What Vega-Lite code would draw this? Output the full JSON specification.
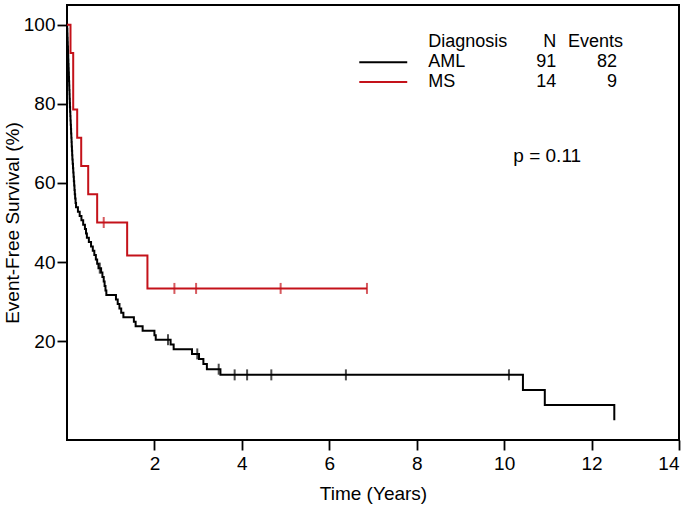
{
  "$schema": "https://vega.github.io/schema/vega-lite/v6.json",
  "width": 612,
  "height": 435,
  "autosize": {"type": "none"},
  "padding": {"left": 67, "top": 5, "right": 12, "bottom": 70},
  "background": "white",
  "config": {
    "view": {"stroke": "black", "strokeWidth": 2},
    "font": "Liberation Sans",
    "axis": {
      "domain": false, "grid": false, "tickColor": "black", "tickWidth": 1.8, "tickSize": 10,
      "labelColor": "black", "labelFontSize": 19, "labelFont": "Liberation Sans",
      "titleColor": "black", "titleFontSize": 19, "titleFont": "Liberation Sans", "titleFontWeight": "normal"
    }
  },
  "datasets": {
    "curves": [
      {"group": "AML", "time": 0, "surv": 100},
      {"group": "AML", "time": 0.004, "surv": 98.90},
      {"group": "AML", "time": 0.008, "surv": 97.80},
      {"group": "AML", "time": 0.011, "surv": 96.70},
      {"group": "AML", "time": 0.015, "surv": 95.60},
      {"group": "AML", "time": 0.018, "surv": 94.51},
      {"group": "AML", "time": 0.022, "surv": 93.41},
      {"group": "AML", "time": 0.025, "surv": 92.31},
      {"group": "AML", "time": 0.029, "surv": 91.21},
      {"group": "AML", "time": 0.032, "surv": 90.11},
      {"group": "AML", "time": 0.036, "surv": 89.01},
      {"group": "AML", "time": 0.039, "surv": 87.91},
      {"group": "AML", "time": 0.043, "surv": 86.81},
      {"group": "AML", "time": 0.046, "surv": 85.71},
      {"group": "AML", "time": 0.050, "surv": 84.62},
      {"group": "AML", "time": 0.053, "surv": 83.52},
      {"group": "AML", "time": 0.057, "surv": 82.42},
      {"group": "AML", "time": 0.060, "surv": 81.32},
      {"group": "AML", "time": 0.064, "surv": 80.22},
      {"group": "AML", "time": 0.067, "surv": 79.12},
      {"group": "AML", "time": 0.071, "surv": 78.02},
      {"group": "AML", "time": 0.076, "surv": 76.92},
      {"group": "AML", "time": 0.080, "surv": 75.82},
      {"group": "AML", "time": 0.085, "surv": 74.73},
      {"group": "AML", "time": 0.090, "surv": 73.63},
      {"group": "AML", "time": 0.094, "surv": 72.53},
      {"group": "AML", "time": 0.099, "surv": 71.43},
      {"group": "AML", "time": 0.104, "surv": 70.33},
      {"group": "AML", "time": 0.108, "surv": 69.23},
      {"group": "AML", "time": 0.113, "surv": 68.13},
      {"group": "AML", "time": 0.118, "surv": 67.03},
      {"group": "AML", "time": 0.123, "surv": 65.93},
      {"group": "AML", "time": 0.130, "surv": 64.84},
      {"group": "AML", "time": 0.137, "surv": 63.74},
      {"group": "AML", "time": 0.143, "surv": 62.64},
      {"group": "AML", "time": 0.150, "surv": 61.54},
      {"group": "AML", "time": 0.157, "surv": 60.44},
      {"group": "AML", "time": 0.164, "surv": 59.34},
      {"group": "AML", "time": 0.171, "surv": 58.24},
      {"group": "AML", "time": 0.178, "surv": 57.14},
      {"group": "AML", "time": 0.186, "surv": 56.04},
      {"group": "AML", "time": 0.196, "surv": 54.95},
      {"group": "AML", "time": 0.207, "surv": 53.85},
      {"group": "AML", "time": 0.25, "surv": 52.75},
      {"group": "AML", "time": 0.29, "surv": 51.65},
      {"group": "AML", "time": 0.33, "surv": 50.55},
      {"group": "AML", "time": 0.37, "surv": 49.45},
      {"group": "AML", "time": 0.41, "surv": 48.35},
      {"group": "AML", "time": 0.435, "surv": 47.25},
      {"group": "AML", "time": 0.455, "surv": 46.15},
      {"group": "AML", "time": 0.50, "surv": 45.05},
      {"group": "AML", "time": 0.55, "surv": 43.96},
      {"group": "AML", "time": 0.59, "surv": 42.86},
      {"group": "AML", "time": 0.625, "surv": 41.76},
      {"group": "AML", "time": 0.66, "surv": 40.66},
      {"group": "AML", "time": 0.69, "surv": 39.56},
      {"group": "AML", "time": 0.72, "surv": 38.46},
      {"group": "AML", "time": 0.78, "surv": 37.33},
      {"group": "AML", "time": 0.81, "surv": 36.20},
      {"group": "AML", "time": 0.84, "surv": 35.07},
      {"group": "AML", "time": 0.86, "surv": 33.94},
      {"group": "AML", "time": 0.88, "surv": 32.81},
      {"group": "AML", "time": 0.90, "surv": 31.68},
      {"group": "AML", "time": 1.12, "surv": 30.54},
      {"group": "AML", "time": 1.16, "surv": 29.41},
      {"group": "AML", "time": 1.20, "surv": 28.28},
      {"group": "AML", "time": 1.24, "surv": 27.15},
      {"group": "AML", "time": 1.29, "surv": 26.02},
      {"group": "AML", "time": 1.53, "surv": 24.89},
      {"group": "AML", "time": 1.57, "surv": 23.76},
      {"group": "AML", "time": 1.73, "surv": 22.62},
      {"group": "AML", "time": 2.00, "surv": 21.49},
      {"group": "AML", "time": 2.03, "surv": 20.36},
      {"group": "AML", "time": 2.37, "surv": 19.16},
      {"group": "AML", "time": 2.44, "surv": 17.96},
      {"group": "AML", "time": 2.86, "surv": 16.77},
      {"group": "AML", "time": 3.02, "surv": 15.48},
      {"group": "AML", "time": 3.12, "surv": 14.19},
      {"group": "AML", "time": 3.20, "surv": 12.90},
      {"group": "AML", "time": 3.51, "surv": 11.47},
      {"group": "AML", "time": 10.43, "surv": 7.65},
      {"group": "AML", "time": 10.93, "surv": 3.82},
      {"group": "AML", "time": 12.52, "surv": 0},
      {"group": "MS", "time": 0, "surv": 100},
      {"group": "MS", "time": 0.08, "surv": 92.86},
      {"group": "MS", "time": 0.142, "surv": 78.57},
      {"group": "MS", "time": 0.233, "surv": 71.43},
      {"group": "MS", "time": 0.325, "surv": 64.29},
      {"group": "MS", "time": 0.485, "surv": 57.14},
      {"group": "MS", "time": 0.69, "surv": 50.0},
      {"group": "MS", "time": 1.376, "surv": 41.67},
      {"group": "MS", "time": 1.84, "surv": 33.33},
      {"group": "MS", "time": 6.862, "surv": 33.33}
    ],
    "censors": [
      {"group": "AML", "time": 0.75, "surv": 38.46},
      {"group": "AML", "time": 2.31, "surv": 20.36},
      {"group": "AML", "time": 2.98, "surv": 16.77},
      {"group": "AML", "time": 3.47, "surv": 12.90},
      {"group": "AML", "time": 3.835, "surv": 11.47},
      {"group": "AML", "time": 4.12, "surv": 11.47},
      {"group": "AML", "time": 4.674, "surv": 11.47},
      {"group": "AML", "time": 6.38, "surv": 11.47},
      {"group": "AML", "time": 10.11, "surv": 11.47},
      {"group": "MS", "time": 0.84, "surv": 50.0},
      {"group": "MS", "time": 2.457, "surv": 33.33},
      {"group": "MS", "time": 2.953, "surv": 33.33},
      {"group": "MS", "time": 4.887, "surv": 33.33},
      {"group": "MS", "time": 6.862, "surv": 33.33}
    ],
    "keyLines": [
      {"group": "AML", "t1": 6.686, "t2": 7.783, "surv": 90.5},
      {"group": "MS", "t1": 6.686, "t2": 7.783, "surv": 85.5}
    ],
    "leftText": [
      {"label": "Diagnosis", "time": 8.263, "surv": 95.7},
      {"label": "AML", "time": 8.263, "surv": 90.5},
      {"label": "MS", "time": 8.263, "surv": 85.5}
    ],
    "pText": [
      {"label": "p = 0.11", "time": 10.21, "surv": 66.75}
    ],
    "rightText": [
      {"label": "N", "time": 11.19, "surv": 95.7},
      {"label": "91", "time": 11.19, "surv": 90.5},
      {"label": "14", "time": 11.19, "surv": 85.5},
      {"label": "Events", "time": 12.72, "surv": 95.7},
      {"label": "82", "time": 12.58, "surv": 90.5},
      {"label": "9", "time": 12.58, "surv": 85.5}
    ]
  },
  "encoding": {
    "x": {"field": "time", "type": "quantitative", "scale": {"domain": [0, 14], "nice": false, "zero": false},
          "axis": {"values": [2, 4, 6, 8, 10, 12, 14], "title": "Time (Years)", "labelPadding": 4, "titlePadding": 11}},
    "y": {"field": "surv", "type": "quantitative", "scale": {"domain": [-5, 105], "nice": false, "zero": false},
          "axis": {"values": [20, 40, 60, 80, 100], "title": "Event-Free Survival (%)", "labelPadding": 2, "titlePadding": 1}}
  },
  "layer": [
    {
      "data": {"name": "curves"},
      "mark": {"type": "line", "interpolate": "step-after", "strokeWidth": 2},
      "encoding": {
        "color": {"field": "group", "type": "nominal", "scale": {"domain": ["AML", "MS"], "range": ["#000000", "#c4121a"]}, "legend": null}
      }
    },
    {
      "data": {"name": "censors"},
      "mark": {"type": "tick", "orient": "vertical", "size": 11, "thickness": 2},
      "encoding": {
        "color": {"field": "group", "type": "nominal", "legend": null}
      }
    },
    {
      "data": {"name": "keyLines"},
      "mark": {"type": "rule", "strokeWidth": 2},
      "encoding": {
        "x": {"field": "t1", "type": "quantitative"},
        "x2": {"field": "t2"},
        "color": {"field": "group", "type": "nominal", "legend": null}
      }
    },
    {
      "data": {"name": "leftText"},
      "mark": {"type": "text", "align": "left", "baseline": "middle", "fontSize": 18, "font": "Liberation Sans", "color": "black"},
      "encoding": {"text": {"field": "label"}}
    },
    {
      "data": {"name": "pText"},
      "mark": {"type": "text", "align": "left", "baseline": "middle", "fontSize": 19, "font": "Liberation Sans", "color": "black"},
      "encoding": {"text": {"field": "label"}}
    },
    {
      "data": {"name": "rightText"},
      "mark": {"type": "text", "align": "right", "baseline": "middle", "fontSize": 18, "font": "Liberation Sans", "color": "black"},
      "encoding": {"text": {"field": "label"}}
    }
  ]
}
